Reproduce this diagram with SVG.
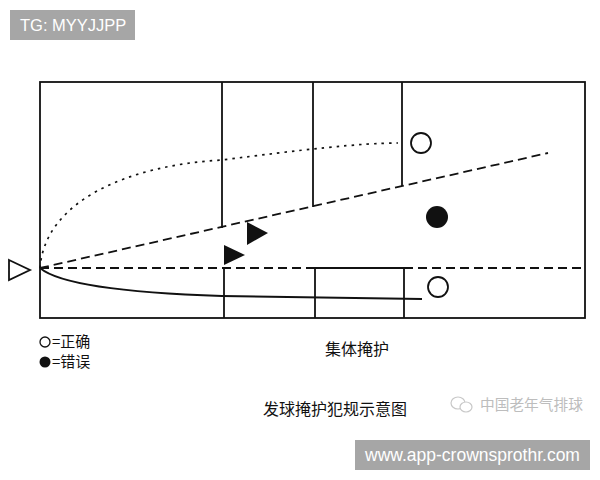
<svg xmlns="http://www.w3.org/2000/svg" width="600" height="480" viewBox="0 0 600 480">
<style>
.ln{stroke:#111;stroke-width:1.8;fill:none}
.dash{stroke:#111;stroke-width:1.8;fill:none;stroke-dasharray:9,5}
.dot{stroke:#111;stroke-width:1.7;fill:none;stroke-dasharray:2.5,5}
.cjk{font-family:"Noto Sans CJK SC","Noto Sans",sans-serif;fill:#111}
.tag{fill:#a6a6a6}
.tagt{font-family:"Liberation Sans",Arial,sans-serif;fill:#fff}
</style>
<rect width="600" height="480" fill="#fff"/>
<g id="tag-top">
<rect class="tag" x="10" y="10" width="125" height="30"/>
<text class="tagt" x="20" y="31" font-size="16.5">TG: MYYJJPP</text>
</g>
<g id="court">
<rect class="ln" x="40" y="82" width="545" height="236"/>
<line class="ln" x1="222" y1="82" x2="222" y2="228"/>
<line class="ln" x1="224" y1="268" x2="224" y2="318"/>
<line class="ln" x1="313" y1="82" x2="313" y2="207"/>
<line class="ln" x1="315" y1="268" x2="315" y2="318"/>
<line class="ln" x1="402" y1="82" x2="402" y2="186"/>
<line class="ln" x1="404" y1="268" x2="404" y2="318"/>
<line class="ln" x1="315" y1="268" x2="404" y2="268"/>
</g>
<g id="connectors">
<line class="dash" x1="40" y1="268" x2="585" y2="268"/>
<line class="dash" x1="40" y1="268" x2="548" y2="153"/>
<path class="dot" d="M40,268 C45,200 130,165 222,160 C300,150 360,143 398,143"/>
<path class="ln" d="M40,268 C60,285 130,293 222,296 L422,299"/>
</g>
<g id="server"><polygon points="9,260 30,270 9,280" fill="#fff" stroke="#111" stroke-width="1.8"/></g>
<g id="blocker1"><polygon points="224,245 245,255 224,265" fill="#111"/></g>
<g id="blocker2"><polygon points="247,222 268,233 247,245" fill="#111"/></g>
<g id="correct1"><circle cx="421" cy="143" r="10" fill="#fff" stroke="#111" stroke-width="1.8"/></g>
<g id="wrong"><circle cx="437" cy="217" r="11" fill="#111"/></g>
<g id="correct2"><circle cx="438" cy="287" r="10" fill="#fff" stroke="#111" stroke-width="1.8"/></g>
<g id="legend">
<circle cx="45" cy="342" r="5" fill="#fff" stroke="#111" stroke-width="1.3"/>
<text class="cjk" x="52" y="347" font-size="15">=正确</text>
<circle cx="45" cy="362" r="5.5" fill="#111"/>
<text class="cjk" x="52" y="367" font-size="15">=错误</text>
</g>
<text class="cjk" x="325" y="355" font-size="16">集体掩护</text>
<text class="cjk" x="263" y="415" font-size="16">发球掩护犯规示意图</text>
<g id="watermark">
<ellipse cx="458" cy="403" rx="7" ry="6" fill="none" stroke="#c8c8c8" stroke-width="1.2"/>
<ellipse cx="466" cy="407" rx="6" ry="5" fill="#fff" stroke="#c8c8c8" stroke-width="1.2"/>
<text x="480" y="410" font-size="14.7" font-family="Noto Sans CJK SC,sans-serif" fill="#bdbdbd">中国老年气排球</text>
</g>
<g id="tag-bottom">
<rect class="tag" x="355" y="440" width="235" height="30"/>
<text class="tagt" x="365" y="461" font-size="17.5">www.app-crownsprothr.com</text>
</g>
</svg>
